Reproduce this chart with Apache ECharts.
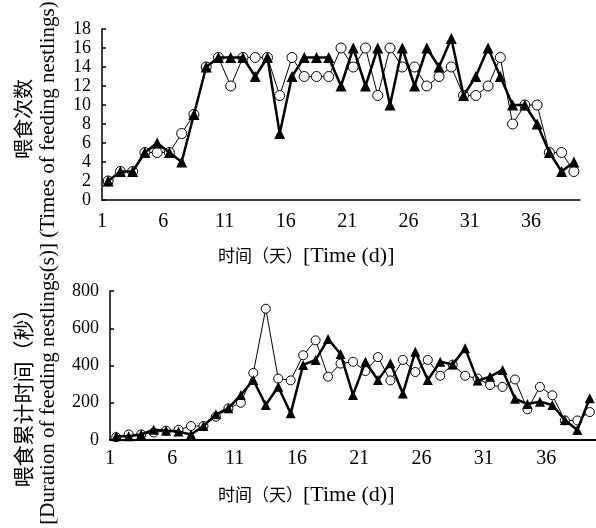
<!DOCTYPE html>
<html>
<head>
<meta charset="utf-8">
<script src="https://cdn.jsdelivr.net/npm/echarts@6/dist/echarts.min.js"></script>
<style>
  html, body { margin: 0; padding: 0; background: #fff; }
  #chart { width: 596px; height: 528px; }
</style>
</head>
<body>
<div id="chart"></div>
<script>
// 日龄（天）
const days = ['1', '2', '3', '4', '5', '6', '7', '8', '9', '10',
  '11', '12', '13', '14', '15', '16', '17', '18', '19', '20',
  '21', '22', '23', '24', '25', '26', '27', '28', '29', '30',
  '31', '32', '33', '34', '35', '36', '37', '38', '39']

// 喂食次数 - 实心三角 / 空心圆
const timesTriangle = [2, 3, 3, 5, 6, 5, 4, 9, 14, 15, 15, 15, 13, 15, 7, 13, 15, 15, 15, 12,
  16, 12, 16, 10, 16, 12, 16, 14, 17, 11, 13, 16, 13, 10, 10, 8, 5, 3, 4]
const timesCircle = [2, 3, 3, 5, 5, 5, 7, 9, 14, 15, 12, 15, 15, 15, 11, 15, 13, 13, 13, 16,
  14, 16, 11, 16, 14, 14, 12, 13, 14, 11, 11, 12, 15, 8, 10, 10, 5, 5, 3]

// 喂食累计时间（秒）
const durTriangle = [20, 20, 30, 55, 50, 45, 30, 75, 138, 170, 242, 322, 188, 286, 143, 403, 430, 542, 462, 242,
  420, 322, 412, 250, 474, 322, 420, 406, 492, 319, 340, 376, 222, 193, 206, 188, 107, 54, 224]
const durCircle = [15, 30, 30, 40, 50, 55, 75, 75, 125, 170, 200, 360, 705, 330, 320, 455, 535, 340, 410, 420,
  370, 445, 320, 430, 365, 430, 345, 405, 345, 330, 295, 285, 325, 165, 285, 240, 105, 105, 150]

const serif = 'Liberation Serif'
const cjk = 'Noto Sans CJK SC'

const chart = echarts.init(document.getElementById('chart'))

// 两个图的网格
const grids = [
  { left: 102, top: 29, width: 478, height: 171 },
  { left: 110, top: 291, width: 486, height: 149 }
]

const makeXAxis = (i) => {
  const cw = grids[i].width / days.length
  return {
    gridIndex: i,
    type: 'category',
    data: days,
    boundaryGap: true,
    axisLine: { lineStyle: { color: '#000', width: i === 0 ? 1.5 : 2 } },
    axisTick: { inside: true, interval: 4, length: 5, lineStyle: { color: '#000', width: 1.5 } },
    // 标签放在刻度（格子左边界）处
    axisLabel: {
      interval: 4,
      color: '#000',
      fontFamily: serif,
      fontSize: 20,
      margin: i === 0 ? 12 : 9,
      padding: [0, cw, 0, 0]
    },
    splitLine: { show: false }
  }
}

const makeYAxis = (i, max, interval) => ({
  gridIndex: i,
  type: 'value',
  min: 0,
  max: max,
  interval: interval,
  axisLine: { show: true, lineStyle: { color: '#000', width: 1.5 } },
  axisTick: { show: true, inside: true, length: 4, lineStyle: { color: '#000', width: 1.5 } },
  axisLabel: { color: '#000', fontFamily: serif, fontSize: 18, margin: 11 },
  splitLine: { show: false }
})

const circleSeries = (i, data, size) => ({
  type: 'line',
  xAxisIndex: i,
  yAxisIndex: i,
  data: data,
  symbol: 'circle',
  symbolSize: size,
  showSymbol: true,
  showAllSymbol: true,
  lineStyle: { color: '#000', width: 1 },
  itemStyle: { color: '#fff', borderColor: '#000', borderWidth: 1 },
  z: 2
})

const triangleSeries = (i, data, size) => ({
  type: 'line',
  xAxisIndex: i,
  yAxisIndex: i,
  data: data,
  symbol: 'triangle',
  symbolSize: size,
  showSymbol: true,
  showAllSymbol: true,
  lineStyle: { color: '#000', width: 2.5 },
  itemStyle: { color: '#000' },
  z: 3
})

const xTitle = (y) => ({
  type: 'text',
  x: 218,
  y: y,
  style: {
    text: '{c|时间（天）}{e|[Time (d)]}',
    align: 'left', textAlign: 'left',
    verticalAlign: 'middle', textVerticalAlign: 'middle',
    fill: '#000',
    rich: {
      c: { fontFamily: cjk, fontSize: 17, fill: '#000', color: '#000' },
      e: { fontFamily: serif, fontSize: 22, fill: '#000', color: '#000' }
    }
  }
})

const vText = (x, y, text, font, size) => ({
  type: 'text',
  x: x,
  y: y,
  rotation: Math.PI / 2,
  style: {
    text: text,
    fontFamily: font,
    fontSize: size,
    fill: '#000',
    align: 'center', textAlign: 'center',
    verticalAlign: 'middle', textVerticalAlign: 'middle'
  }
})

const option = {
  animation: false,
  backgroundColor: '#fff',
  grid: grids,
  xAxis: [makeXAxis(0), makeXAxis(1)],
  yAxis: [makeYAxis(0, 18, 2), makeYAxis(1, 800, 200)],
  series: [
    circleSeries(0, timesCircle, 10),
    triangleSeries(0, timesTriangle, 11),
    circleSeries(1, durCircle, 9),
    triangleSeries(1, durTriangle, 10)
  ],
  graphic: [
    xTitle(256),
    xTitle(495),
    vText(23, 119, '喂食次数', cjk, 20),
    vText(23, 393, '喂食累计时间（秒）', cjk, 21),
    vText(48, 263, '[Duration of feeding nestlings(s)] (Times of feeding nestlings)', serif, 21)
  ]
}

chart.setOption(option)
</script>
</body>
</html>
